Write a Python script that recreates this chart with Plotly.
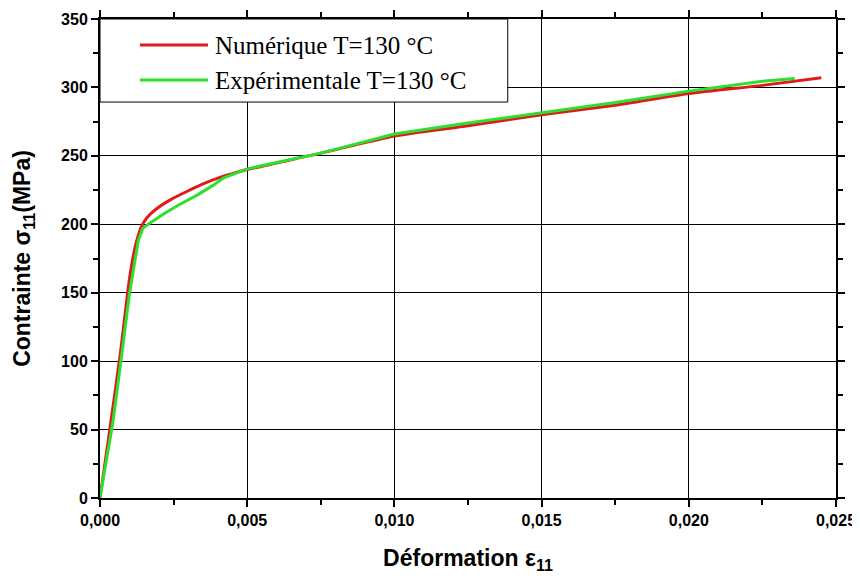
import plotly.graph_objects as go

# Numerical curve (red)
num_strain = [0, 0.0003, 0.0007, 0.0010, 0.0012, 0.0014, 0.0016, 0.0019, 0.0024, 0.0030,
              0.0035, 0.0041, 0.0045, 0.0050, 0.0075, 0.0100, 0.0125, 0.0150, 0.0175,
              0.0200, 0.0225, 0.0245]
num_stress = [0, 45, 107, 160, 184, 198, 205, 211, 218, 224.5,
              229.5, 234.5, 237, 240, 252, 264.5, 272, 280, 287,
              295.5, 301.5, 307]

# Experimental curve (green)
exp_strain = [0, 0.00045, 0.0008, 0.0010, 0.0012, 0.0013, 0.00145, 0.0017, 0.0022, 0.0027,
              0.0033, 0.00385, 0.0042, 0.0050, 0.0075, 0.0100, 0.0125, 0.0150, 0.0175,
              0.0200, 0.0225, 0.0236]
exp_stress = [0, 57, 115, 149, 175, 188, 197, 201, 208, 214.5,
              221.3, 228.6, 234, 240.5, 252, 266, 274, 281.5, 289,
              297.3, 304.5, 306.5]

legend_labels = ["Numérique T=130 °C", "Expérimentale T=130 °C"]
colors = ["#e01a1a", "#2ee02e"]

x_ticks = [0, 0.005, 0.010, 0.015, 0.020, 0.025]
x_ticktext = ["0,000", "0,005", "0,010", "0,015", "0,020", "0,025"]
y_ticks = [0, 50, 100, 150, 200, 250, 300, 350]

fig = go.Figure()
fig.add_trace(go.Scatter(x=num_strain, y=num_stress, mode="lines", name=legend_labels[0],
                         line=dict(color=colors[0], width=3, shape="spline", smoothing=0.6),
                         showlegend=False))
fig.add_trace(go.Scatter(x=exp_strain, y=exp_stress, mode="lines", name=legend_labels[1],
                         line=dict(color=colors[1], width=3), showlegend=False))

sans = "Liberation Sans, Arial, sans-serif"
tickfont = dict(family=sans, size=16, color="black", weight="bold")
titlefont = dict(family=sans, size=23, color="black", weight="bold")

fig.update_xaxes(range=[0, 0.025], tickvals=x_ticks, ticktext=x_ticktext,
                 showline=True, linecolor="black", linewidth=2, mirror="ticks",
                 ticks="outside", ticklen=7, tickwidth=2, tickcolor="black",
                 minor=dict(ticks="outside", ticklen=5, tickwidth=2, tickcolor="black",
                            dtick=0.0025, showgrid=False),
                 showgrid=True, gridcolor="black", gridwidth=1, zeroline=False,
                 tickfont=tickfont, automargin=False,
                 title=dict(text="Déformation ε<sub>11</sub>", font=titlefont, standoff=22))
fig.update_yaxes(range=[0, 350], tickvals=y_ticks,
                 showline=True, linecolor="black", linewidth=2, mirror="ticks",
                 ticks="outside", ticklen=7, tickwidth=2, tickcolor="black",
                 minor=dict(ticks="outside", ticklen=5, tickwidth=2, tickcolor="black",
                            dtick=25, showgrid=False),
                 showgrid=True, gridcolor="black", gridwidth=1, zeroline=False,
                 tickfont=tickfont, automargin=False,
                 title=dict(text="Contrainte σ<sub>11</sub>(MPa)", font=titlefont, standoff=24))

# Manual legend box (top-left, covering grid)
box_bottom = 0.8266
fig.add_shape(type="rect", xref="paper", yref="paper", x0=0, x1=0.554, y0=box_bottom, y1=1,
              fillcolor="white", line=dict(color="black", width=1), layer="above")
legend_y = [0.9457, 0.8725]
for lbl, col, ly in zip(legend_labels, colors, legend_y):
    fig.add_shape(type="line", xref="paper", yref="paper", x0=0.0543, x1=0.1467, y0=ly, y1=ly,
                  line=dict(color=col, width=3), layer="above")
    fig.add_annotation(xref="paper", yref="paper", x=0.1535, y=ly, text=lbl, showarrow=False,
                       xanchor="left", yanchor="middle",
                       font=dict(family="Liberation Serif, Times New Roman, serif", size=25,
                                 color="black"))

# The page body adds an ~8px offset; margins compensate so the plot area lands
# where it is in the reference.
fig.update_layout(width=860, height=581, paper_bgcolor="white", plot_bgcolor="white",
                  margin=dict(l=92, r=32, t=11, b=91), showlegend=False)

fig.write_html("out.html")
